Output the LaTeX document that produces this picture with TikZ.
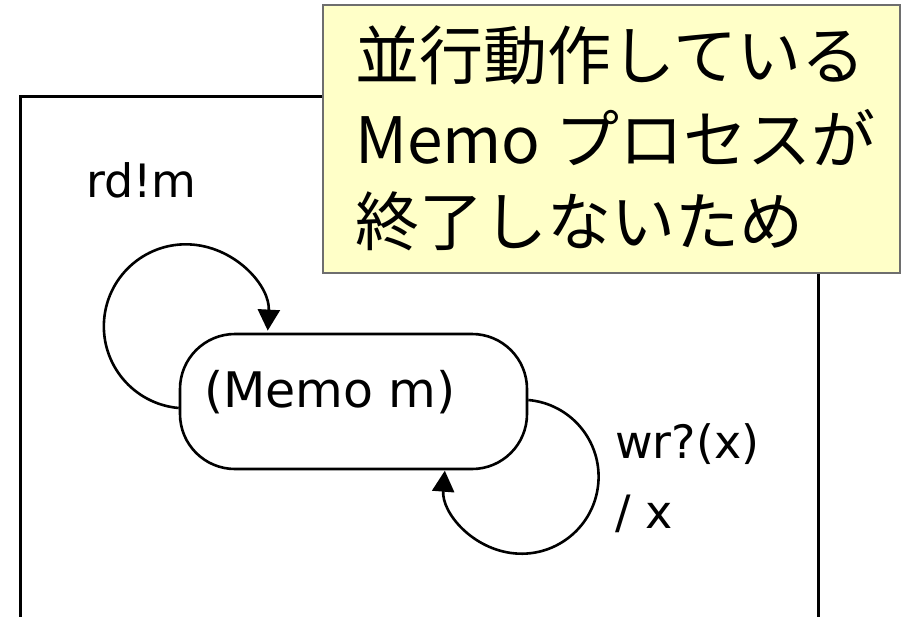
\documentclass[tikz,border=0pt]{standalone}
\usepackage{fontspec}
\setmainfont{DejaVu Sans}
\newfontfamily\jpfont{Noto Sans CJK JP}
\usetikzlibrary{arrows.meta}
\definecolor{notefill}{RGB}{255,255,200}
\definecolor{noteedge}{RGB}{110,110,110}
\tikzset{
  framebox/.style={line width=3pt, draw=black},
  statebox/.style={draw=black, line width=2.6pt, rounded corners=55pt, minimum width=347pt, minimum height=135pt, inner sep=0pt},
  lbl/.style={font=\fontsize{46}{52}\selectfont, inner sep=0pt, anchor=base west},
  looparrow/.style={line width=2.6pt, -{Triangle[width=22pt,length=21pt]}},
  notebox/.style={draw=noteedge, fill=notefill, line width=1.5pt},
  noteline/.style={font=\jpfont\fontsize{64}{68}\selectfont, inner sep=0pt, anchor=west},
}
\begin{document}
\begin{tikzpicture}[x=1pt,y=-1pt]
\useasboundingbox (0,0) rectangle (904,616);
% outer frame
\draw[framebox] (20,630) -- (20,96) -- (818,96) -- (818,630);
% note
\draw[notebox] (323,5) rectangle (900,273);
\node[noteline] (n1) at (355,55) {並行動作している};
\node[noteline] (n2) at (355,138) {Memo プロセスが};
\node[noteline] (n3) at (355,221) {終了しないため};
% state
\node[statebox] (memo) at (353.5,401.5) {};
\node[font=\fontsize{49}{54}\selectfont, inner sep=0pt, anchor=base] (memotext) at (330,407) {(Memo m)};
% loops
\draw[looparrow] (memo.west) ++(0,6.5) arc[start angle=95, end angle=363, radius=82];
\draw[looparrow] (memo.east) ++(0,-1.5) arc[start angle=-85, end angle=184.5, radius=77];
% labels
\node[lbl] (rd) at (86,197) {rd!m};
\node[lbl] (wr) at (615,458) {wr?(x)};
\node[lbl] (sx) at (615,528) {/ x};
\end{tikzpicture}
\end{document}
